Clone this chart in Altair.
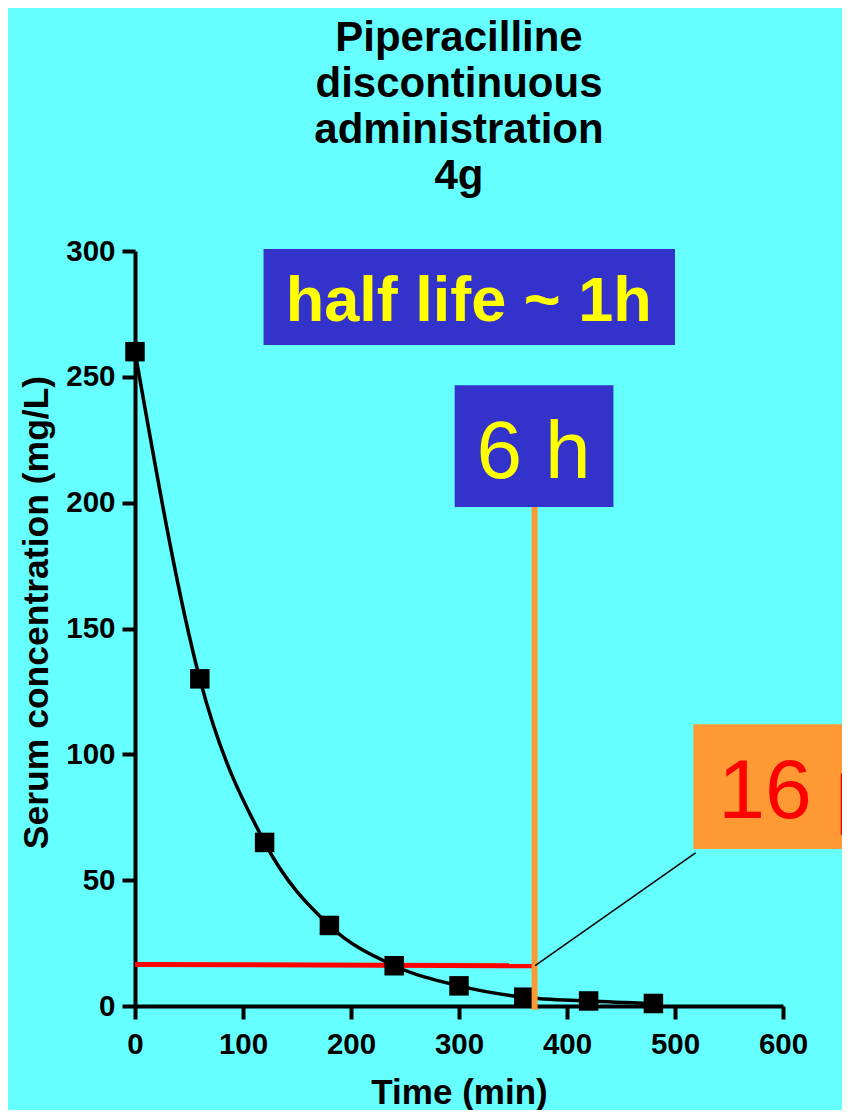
import altair as alt
import pandas as pd

# ---- data ----
time_min = [0, 60, 120, 180, 240, 300, 360, 420, 480]
conc = [260, 130, 65, 32, 16, 8, 3.5, 2, 1]

x_ticks = [0, 100, 200, 300, 400, 500, 600]
y_ticks = [0, 50, 100, 150, 200, 250, 300]

title_lines = ["Piperacilline", "discontinuous", "administration", "4g"]

# threshold (MIC) line and the 6 h marker
mic_x = [0, 370]
mic_y = [16.5, 16.0]
six_h_x = [370]
six_h_y = [-1.5]
six_h_y2 = [198.3]

# annotation boxes (data units)
half_box = {"x": [119], "x2": [500], "y": [262.6], "y2": [300.8]}
half_txt = {"x": [309], "y": [272], "label": ["half life ~ 1h"]}
six_box = {"x": [296], "x2": [443], "y": [198.3], "y2": [246.7]}
six_txt = {"x": [369], "y": [209.8], "label": ["6 h"]}
mic_box = {"x": [517], "x2": [730], "y": [62.4], "y2": [112]}
mic_txt = {"x": [540], "y": [74.7], "label": ["16 µg/mL"]}
leader = {"x": [370.5], "y": [16.0], "x2": [519], "y2": [60.8]}

FONT = "Liberation Sans"
CYAN = "#66FFFF"
BLUE = "#3333CC"
YELLOW = "#FFFF00"
ORANGE = "#FF9933"
RED = "#FF0000"

xs = alt.Scale(domain=[0, 600], nice=False, zero=False)
ys = alt.Scale(domain=[0, 300], nice=False, zero=False)
AX = alt.Axis(values=x_ticks, titleBaseline="alphabetic", titleY=97, labelFlush=False)
AY = alt.Axis(values=y_ticks, titleBaseline="middle", titleX=-99, titleY=361, labelFlush=False)
XT = "Time (min)"
YT = "Serum concentration (mg/L)"


def X(field):
    return alt.X(field, type="quantitative", scale=xs, axis=AX, title=XT)


def Y(field):
    return alt.Y(field, type="quantitative", scale=ys, axis=AY, title=YT)


df = pd.DataFrame({"t": time_min, "c": conc})

curve = alt.Chart(df).mark_line(color="black", strokeWidth=3.5, interpolate="monotone").encode(
    x=X("t"), y=Y("c"))
points = alt.Chart(df).mark_point(shape="square", filled=True, size=380, color="black",
                                  opacity=1).encode(x=X("t"), y=Y("c"))

mic_df = pd.DataFrame({"x": mic_x, "y": mic_y})
mic_line = alt.Chart(mic_df).mark_line(color=RED, strokeWidth=5).encode(x=X("x"), y=Y("y"))

six_df = pd.DataFrame({"x": six_h_x, "y": six_h_y, "y2": six_h_y2})
six_line = alt.Chart(six_df).mark_rule(color=ORANGE, strokeWidth=6).encode(
    x=X("x"), y=Y("y"), y2="y2:Q")


def box(d, color):
    return alt.Chart(pd.DataFrame(d)).mark_rect(color=color).encode(
        x=X("x"), x2="x2:Q", y=Y("y"), y2="y2:Q")


def label(d, color, size, weight, align):
    return alt.Chart(pd.DataFrame(d)).mark_text(
        color=color, font=FONT, fontSize=size, fontWeight=weight, align=align,
        baseline="alphabetic").encode(x=X("x"), y=Y("y"), text="label:N")


leader_line = alt.Chart(pd.DataFrame(leader)).mark_rule(color="black", strokeWidth=1.5).encode(
    x=X("x"), y=Y("y"), x2="x2:Q", y2="y2:Q")

chart = alt.layer(
    curve,
    mic_line,
    points,
    six_line,
    leader_line,
    box(half_box, BLUE),
    label(half_txt, YELLOW, 63, "bold", "center"),
    box(six_box, BLUE),
    label(six_txt, YELLOW, 82, "normal", "center"),
    box(mic_box, ORANGE),
    label(mic_txt, RED, 84, "normal", "left"),
).properties(
    width=648,
    height=755,
    padding={"left": 127, "top": 243, "right": 59, "bottom": 104},
    autosize=alt.AutoSizeParams(type="none"),
    background=CYAN,
    title=alt.TitleParams(text=title_lines, font=FONT, fontSize=42, fontWeight="bold",
                          color="black", anchor="middle", lineHeight=46, offset=38),
).configure_view(stroke=None).configure_axis(
    grid=False,
    domainColor="black", domainWidth=4,
    tickColor="black", tickWidth=4, tickSize=13,
    labelFont=FONT, labelFontSize=29.5, labelFontWeight="bold", labelColor="black",
    labelPadding=7, labelFlush=False,
    titleFont=FONT, titleFontWeight="bold", titleColor="black",
).configure_axisX(titleFontSize=35, labelPadding=11).configure_axisY(titleFontSize=35.5)

chart.save("out.html", embed_options={"renderer": "svg", "actions": False})
